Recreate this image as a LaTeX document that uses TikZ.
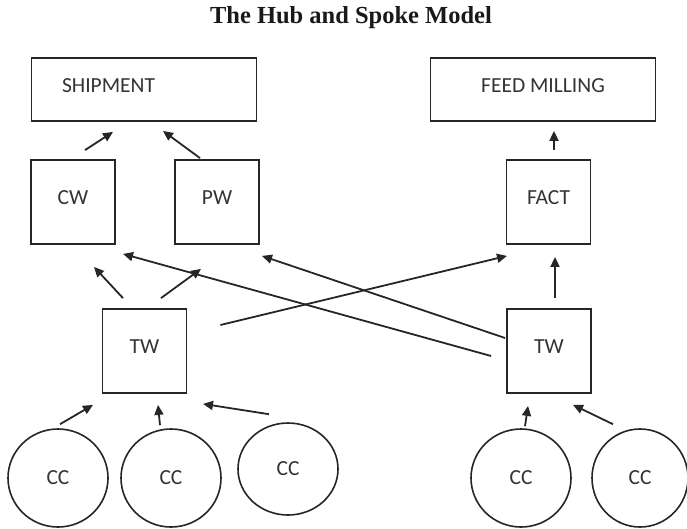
\documentclass[tikz,border=0pt]{standalone}
\usepackage{fontspec}
\setmainfont{Carlito}
\newfontfamily\titlefont{Liberation Serif}
\usepackage{tikz}
\usetikzlibrary{arrows.meta,shapes.geometric}

\newcommand\boxfont{\fontsize{21.5}{24}\selectfont}

\tikzset{
    box/.style={draw=black!85,rectangle,line width=1.8pt,inner sep=0pt,
        minimum width=84pt,minimum height=84pt,text depth=8pt,
        text=black!80,font=\boxfont},
    wide/.style={box,minimum width=225pt,minimum height=63pt},
    cc/.style={draw=black!85,ellipse,line width=1.6pt,inner sep=0pt,
        minimum width=100pt,minimum height=98pt,text=black!80,font=\boxfont},
    arr/.style={-{Triangle[length=10pt,width=9pt]},line width=1.8pt,draw=black!85},
    heading/.style={font=\titlefont\bfseries\fontsize{24.5}{28}\selectfont,text=black!90}
}

\begin{document}
\begin{tikzpicture}[x=1pt,y=-1pt]
    \useasboundingbox (0,0) rectangle (687,528);
    \node[heading] (title) at (351,18) {The Hub and Spoke Model};
    \path
        (144,89.5)    node[wide,text width=164pt,align=left] (ship) {SHIPMENT}
     ++ (399,0)       node[wide] (feed) {FEED MILLING}
        (73,202)      node[box] (cw) {CW}
     ++ (144,0)       node[box] (pw) {PW}
     ++ (331.5,0)     node[box] (fact) {FACT}
        (144.5,351)   node[box] (twl) {TW}
     ++ (404.5,0)     node[box] (twr) {TW}
        (58,478)      node[cc] (cc1) {CC}
     ++ (113,0)       node[cc] (cc2) {CC}
     ++ (117,-9)      node[cc,minimum height=92pt] (cc3) {CC}
     ++ (233,9)       node[cc] (cc4) {CC}
     ++ (119,0)       node[cc,minimum width=96pt] (cc5) {CC}
     ;
    % warehouses to the top
    \draw[arr] ([shift={(12,-9)}]cw.north) -- ([shift={(-31,10)}]ship.south);
    \draw[arr] ([shift={(-17,-1)}]pw.north) -- ([shift={(19,9)}]ship.south);
    \draw[arr] ([shift={(5.5,-9)}]fact.north) -- ([shift={(11,9)}]feed.south);
    % transit warehouses
    \draw[arr] ([shift={(-21.5,-10)}]twl.north) -- ([shift={(21,22)}]cw.south);
    \draw[arr] ([shift={(16.5,-10)}]twl.north) -- ([shift={(-16,24)}]pw.south);
    \draw[arr] ([shift={(33,-26)}]twl.east) -- ([shift={(-41.5,11)}]fact.south);
    \draw[arr] ([shift={(-15,5)}]twr.west) -- ([shift={(50,9)}]cw.south);
    \draw[arr] ([shift={(-1,-13)}]twr.west) -- ([shift={(45,11)}]pw.south);
    \draw[arr] ([shift={(6,-10)}]twr.north) -- ([shift={(6.5,12)}]fact.south);
    % collection centres
    \draw[arr] ([shift={(2,-4)}]cc1.north) -- ([shift={(-51.5,11)}]twl.south);
    \draw[arr] ([shift={(-11,-3)}]cc2.north) -- ([shift={(13.5,11)}]twl.south);
    \draw[arr] ([shift={(-19,-8)}]cc3.north) -- ([shift={(58.5,10)}]twl.south);
    \draw[arr] ([shift={(4,-2)}]cc4.north) -- ([shift={(-21,12)}]twr.south);
    \draw[arr] ([shift={(-27,-4)}]cc5.north) -- ([shift={(24,11)}]twr.south);
\end{tikzpicture}
\end{document}
